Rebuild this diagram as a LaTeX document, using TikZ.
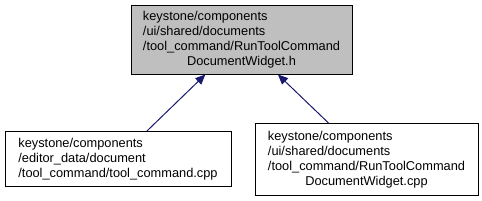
\documentclass[tikz,border=0pt]{standalone}
\usepackage{fontspec}
\setmainfont{Liberation Sans}
\usepackage{xcolor}
\usetikzlibrary{arrows.meta,positioning}
\definecolor{dgray}{HTML}{BFBFBF}
\definecolor{dblue}{HTML}{191970}
\newcommand{\flines}[2]{\begin{tabular}{@{}l@{}}#1\\\multicolumn{1}{@{}c@{}}{#2}\end{tabular}}
\begin{document}
\begin{tikzpicture}[x=0.75pt,y=-0.75pt,
    every node/.style={font=\fontsize{9.6}{11.25}\selectfont,inner sep=0pt},
    filebox/.style={draw=black,line width=0.75pt,fill=white},
    arr/.style={draw=dblue,line width=0.75pt,-{Triangle[width=6.5pt,length=7.5pt]}}]
  \useasboundingbox (0,0) rectangle (482,200);
  % header
  \node[filebox,fill=dgray,minimum width=165.75pt,minimum height=51.75pt] (hdr) at (241.5,39.5)
    {\flines{keystone/components\\/ui/shared/documents\\/tool\_command/RunToolCommand}{DocumentWidget.h}};
  % files that include it
  \node[filebox,minimum width=169.5pt,minimum height=41.25pt] (cmd) at (118,159)
    {\begin{tabular}{@{}l@{}}keystone/components\\/editor\_data/document\\/tool\_command/tool\_command.cpp\end{tabular}};
  \node[filebox,minimum width=167.25pt,minimum height=54pt] (wgt) at (366.5,159.5)
    {\flines{keystone/components\\/ui/shared/documents\\/tool\_command/RunToolCommand}{DocumentWidget.cpp}};
  \draw[arr] (cmd) -- (hdr);
  \draw[arr] (wgt) -- (hdr);
\end{tikzpicture}
\end{document}
